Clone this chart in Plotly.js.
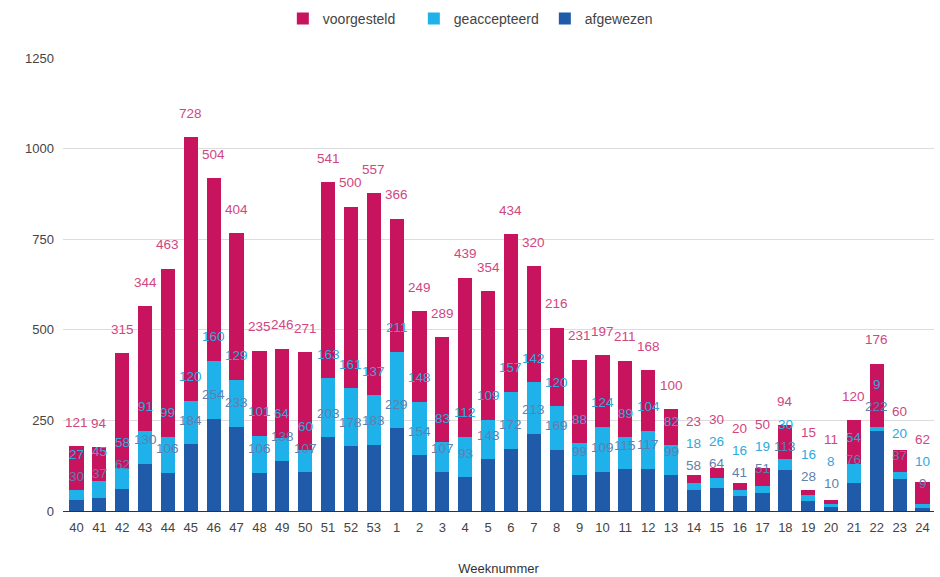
<!DOCTYPE html>
<html>
<head>
<meta charset="utf-8">
<script src="https://cdn.plot.ly/plotly-3.0.1.min.js"></script>
<style>html,body{margin:0;padding:0;background:#fff}#chart{width:940px;height:577px}</style>
</head>
<body>
<div id="chart"></div>
<script>
const weeks = ["40","41","42","43","44","45","46","47","48","49","50","51","52","53","1","2","3","4","5","6","7","8","9","10","11","12","13","14","15","16","17","18","19","20","21","22","23","24"];
const afgewezen = [30,37,62,130,106,184,254,233,106,138,107,203,178,183,229,154,107,93,143,172,213,169,99,109,115,117,99,58,64,41,51,113,28,10,76,222,87,9];
const geaccepteerd = [27,45,58,91,99,120,160,129,101,64,60,163,161,137,211,148,83,112,109,157,142,120,88,124,89,104,82,18,26,16,19,30,16,8,54,9,20,10];
const voorgesteld = [121,94,315,344,463,728,504,404,235,246,271,541,500,557,366,249,289,439,354,434,320,216,231,197,211,168,100,23,30,20,50,94,15,11,120,176,60,62];

const colors = {afgewezen:"#1f5ba8", geaccepteerd:"#1fb2ea", voorgesteld:"#c8145f"};
const labelColors = {afgewezen:"#5f7fb0", geaccepteerd:"#2aaade", voorgesteld:"#d0477f"};
const font = "Liberation Sans, Arial, sans-serif";

const series = [
  {name:"afgewezen", values:afgewezen},
  {name:"geaccepteerd", values:geaccepteerd},
  {name:"voorgesteld", values:voorgesteld}
];

const traces = series.map(s => ({
  type:"bar", name:s.name, x:weeks, y:s.values,
  marker:{color:colors[s.name]}, hoverinfo:"x+y+name"
}));

const W = 940, H = 577, M = {l:63, r:6, t:58, b:66};
const yMax = 1250;
const ppu = (H - M.t - M.b) / yMax;   // pixels per unit, for label collision avoidance only
const labelGap = 24, minSpacing = 22;

const annotations = [];
const cum = weeks.map(() => 0);
const lastCenter = weeks.map(() => -Infinity);
series.forEach(s => {
  s.values.forEach((v, i) => {
    cum[i] += v;
    let center = cum[i] * ppu + labelGap;
    if (center < lastCenter[i] + minSpacing) center = lastCenter[i] + minSpacing;
    lastCenter[i] = center;
    annotations.push({
      x: i, y: cum[i], xref:"x", yref:"y",
      text: String(v), showarrow:false, yanchor:"middle", yshift: center - cum[i] * ppu,
      font:{family:font, size:13.5, color:labelColors[s.name]}
    });
  });
});

const layout = {
  width:W, height:H,
  margin:M,
  barmode:"stack", bargap:0.38,
  paper_bgcolor:"#fff", plot_bgcolor:"#fff",
  font:{family:font, size:13, color:"#444"},
  showlegend:true,
  legend:{orientation:"h", x:0.478, xanchor:"center", y:0.995, yref:"container", yanchor:"top", traceorder:"reversed",
    font:{family:font, size:14, color:"#444"}, entrywidth:86, entrywidthmode:"pixels"},
  xaxis:{type:"category", tickfont:{size:13, color:"#444"}, tickangle:0, showgrid:false, showline:true, linecolor:"#333", linewidth:1,
    title:{text:"Weeknummer", font:{size:13, color:"#333"}, standoff:30}, ticks:"", automargin:false, ticklabelstandoff:4},
  yaxis:{range:[0,yMax], tickvals:[0,250,500,750,1000,1250], gridcolor:"#dcdcdc", zeroline:false,
    tickfont:{size:13, color:"#444"}, ticks:"", automargin:false, ticklabelstandoff:8},
  annotations: annotations
};

Plotly.newPlot("chart", traces, layout, {displayModeBar:false, staticPlot:true});
</script>
</body>
</html>
